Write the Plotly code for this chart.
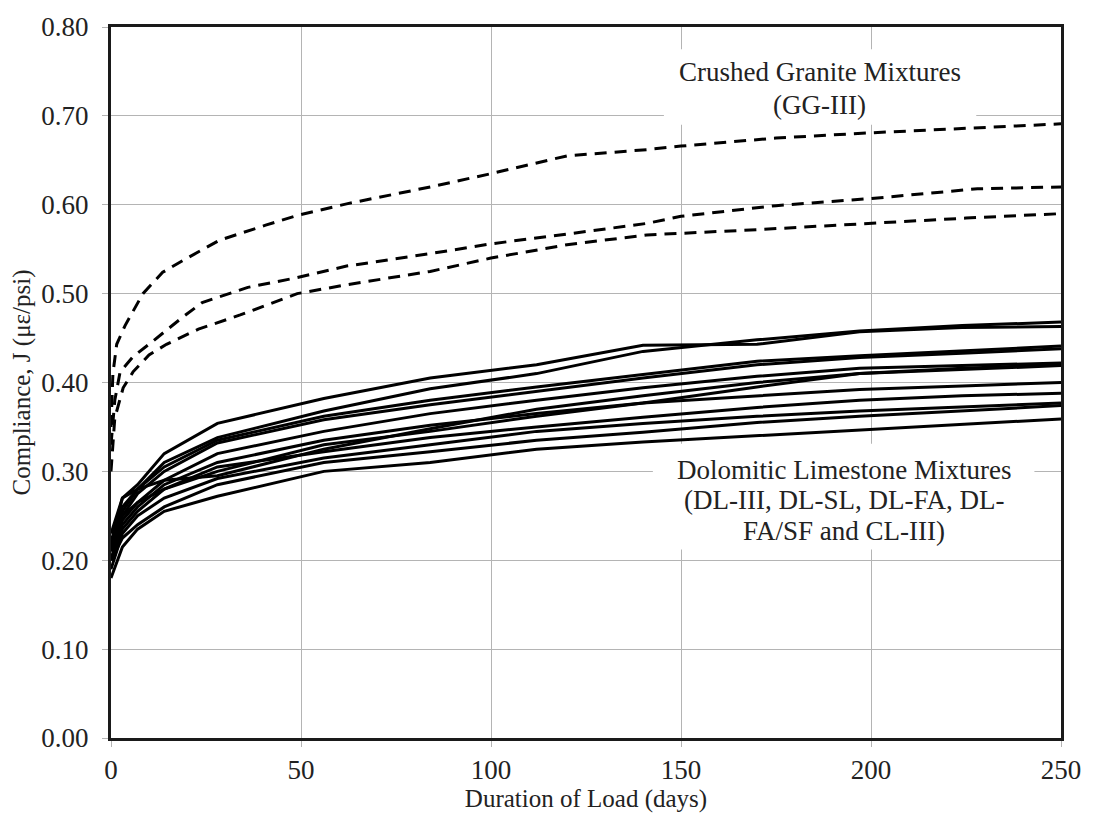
import plotly.graph_objects as go

# Creep compliance vs. duration of load
# Crushed granite mixtures (GG-III), dashed
gg_days = [0, 0.5, 1.5, 3.7, 8.4, 13.6, 18.8, 28.5, 40.7, 49, 62, 84, 100, 120, 141, 150, 175, 200, 225, 250]
gg_top = [0.35, 0.41, 0.443, 0.464, 0.50, 0.524, 0.537, 0.56, 0.577, 0.588, 0.601, 0.62, 0.635, 0.655, 0.662, 0.666, 0.675, 0.681, 0.686, 0.691]

gg_mid_days = [0, 1, 2.4, 5.8, 10, 19, 24, 36, 49, 62, 84, 100, 120, 141, 150, 175, 200, 228, 250]
gg_mid = [0.33, 0.38, 0.412, 0.429, 0.443, 0.474, 0.49, 0.507, 0.518, 0.531, 0.545, 0.556, 0.567, 0.579, 0.587, 0.599, 0.607, 0.618, 0.62]

gg_low_days = [0, 1, 3.2, 5.8, 10, 14.6, 23, 34, 49, 62, 84, 100, 120, 141, 170, 200, 225, 250]
gg_low = [0.30, 0.36, 0.394, 0.412, 0.431, 0.443, 0.46, 0.476, 0.50, 0.51, 0.525, 0.54, 0.555, 0.566, 0.572, 0.579, 0.585, 0.59]

# Dolomitic limestone mixtures, solid
dl_days = [0, 3, 7, 14, 28, 56, 84, 112, 140, 170, 197, 224, 250]
dl_a = [0.22, 0.27, 0.285, 0.32, 0.354, 0.382, 0.405, 0.42, 0.442, 0.443, 0.457, 0.462, 0.463]
dl_b = [0.21, 0.255, 0.28, 0.31, 0.338, 0.368, 0.393, 0.41, 0.435, 0.448, 0.458, 0.464, 0.468]
dl_c = [0.215, 0.26, 0.28, 0.305, 0.335, 0.362, 0.38, 0.395, 0.409, 0.424, 0.43, 0.436, 0.441]
dl_d = [0.20, 0.25, 0.275, 0.30, 0.332, 0.358, 0.375, 0.39, 0.405, 0.42, 0.428, 0.433, 0.438]
dl_e = [0.21, 0.245, 0.265, 0.29, 0.32, 0.345, 0.365, 0.38, 0.394, 0.407, 0.416, 0.419, 0.422]
dl_f = [0.20, 0.24, 0.26, 0.285, 0.31, 0.335, 0.352, 0.365, 0.377, 0.395, 0.41, 0.415, 0.419]
dl_g = [0.22, 0.25, 0.265, 0.28, 0.30, 0.33, 0.345, 0.362, 0.377, 0.385, 0.392, 0.396, 0.40]
dl_h = [0.20, 0.235, 0.255, 0.28, 0.305, 0.322, 0.338, 0.35, 0.361, 0.372, 0.38, 0.385, 0.388]
dl_i = [0.19, 0.23, 0.25, 0.27, 0.292, 0.315, 0.33, 0.345, 0.354, 0.362, 0.368, 0.373, 0.377]
dl_j = [0.20, 0.225, 0.24, 0.26, 0.285, 0.31, 0.322, 0.335, 0.344, 0.355, 0.362, 0.368, 0.374]
dl_k = [0.18, 0.215, 0.235, 0.255, 0.272, 0.30, 0.31, 0.325, 0.333, 0.34, 0.347, 0.353, 0.359]
dl_l = [0.23, 0.27, 0.28, 0.29, 0.295, 0.325, 0.348, 0.37, 0.385, 0.40, 0.41, 0.416, 0.42]

x_ticks = [0, 50, 100, 150, 200, 250]
y_ticks = [0.0, 0.1, 0.2, 0.3, 0.4, 0.5, 0.6, 0.7, 0.8]

granite_label = ["Crushed Granite Mixtures", "(GG-III)"]
dolomite_label = ["Dolomitic Limestone Mixtures", "(DL-III, DL-SL, DL-FA, DL-", "FA/SF and CL-III)"]

FONT = "Liberation Serif"
TXT = "#222222"

fig = go.Figure()

for d, v in [(gg_days, gg_top), (gg_mid_days, gg_mid), (gg_low_days, gg_low)]:
    fig.add_trace(go.Scatter(x=d, y=v, mode="lines",
                             line=dict(color="black", width=3, dash="12px,8px"),
                             showlegend=False, hoverinfo="skip"))

for v in [dl_a, dl_b, dl_c, dl_d, dl_e, dl_f, dl_g, dl_h, dl_i, dl_j, dl_k, dl_l]:
    fig.add_trace(go.Scatter(x=dl_days, y=v, mode="lines",
                             line=dict(color="black", width=3),
                             showlegend=False, hoverinfo="skip"))

# white panels behind the two group labels (over the grid, under the curves)
fig.add_shape(type="rect", xref="x", yref="y", x0=145.5, x1=227.7, y0=0.69, y1=0.775,
              fillcolor="white", line=dict(width=0), layer="between")
fig.add_shape(type="rect", xref="x", yref="y", x0=142.6, x1=243, y0=0.212, y1=0.331,
              fillcolor="white", line=dict(width=0), layer="between")

for line, yv in zip(granite_label, [0.749, 0.712]):
    fig.add_annotation(x=186.5, y=yv, xref="x", yref="y", text=line, showarrow=False,
                       font=dict(family=FONT, size=27, color=TXT))
for line, yv in zip(dolomite_label, [0.3015, 0.268, 0.233]):
    fig.add_annotation(x=193, y=yv, xref="x", yref="y", text=line, showarrow=False,
                       font=dict(family=FONT, size=27, color=TXT))

axis_common = dict(showline=True, linecolor="#1a1a1a", linewidth=3, mirror=True,
                   showgrid=True, gridcolor="#b4b4b4", gridwidth=1,
                   ticks="outside", ticklen=6, tickcolor="#b4b4b4", tickwidth=1,
                   zeroline=False,
                   tickfont=dict(family=FONT, size=27, color=TXT))

fig.update_xaxes(range=[0, 250], tickvals=x_ticks, ticktext=[str(t) for t in x_ticks],
                 title=dict(text="Duration of Load (days)", font=dict(family=FONT, size=25, color=TXT), standoff=4),
                 **axis_common)
fig.update_yaxes(range=[0, 0.8], tickvals=y_ticks, ticktext=[f"{t:.2f}" for t in y_ticks],
                 ticklabelstandoff=8,
                 title=dict(text="Compliance, J (με/psi)", font=dict(family=FONT, size=25, color=TXT), standoff=4),
                 **axis_common)

fig.update_layout(width=1093, height=819, plot_bgcolor="white", paper_bgcolor="white",
                  margin=dict(l=111, r=25, t=21, b=77))

fig.write_html("out.html")
